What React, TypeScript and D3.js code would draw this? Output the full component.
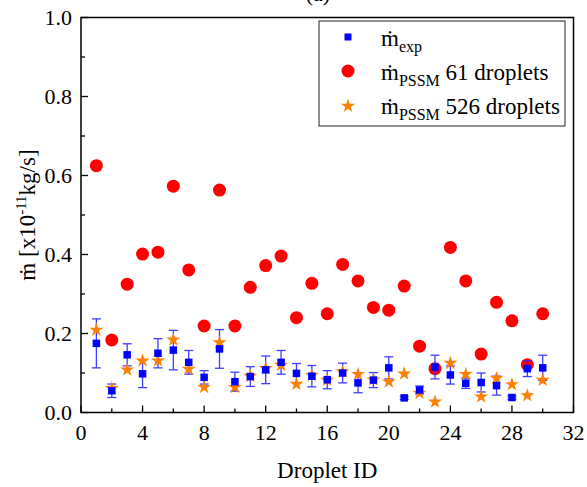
import React from "react";
import * as d3 from "d3";

const dropletIds = d3.range(1, 31);
const mExp = [0.175, 0.055, 0.146, 0.098, 0.15, 0.158, 0.127, 0.089, 0.161, 0.078, 0.091, 0.108, 0.127, 0.099, 0.092, 0.083, 0.1, 0.075, 0.082, 0.113, 0.037, 0.057, 0.115, 0.095, 0.074, 0.076, 0.068, 0.038, 0.111, 0.113];
const mExpErr = [0.062, 0.017, 0.028, 0.035, 0.037, 0.05, 0.03, 0.017, 0.049, 0.024, 0.025, 0.035, 0.03, 0.025, 0.027, 0.023, 0.025, 0.025, 0.019, 0.028, 0.004, 0.01, 0.03, 0.023, 0.013, 0.024, 0.024, 0.004, 0.02, 0.032];
const mPssm61 = [0.625, 0.1835, 0.325, 0.401, 0.406, 0.573, 0.361, 0.219, 0.563, 0.219, 0.317, 0.372, 0.396, 0.24, 0.327, 0.25, 0.375, 0.333, 0.266, 0.259, 0.32, 0.168, 0.111, 0.418, 0.333, 0.148, 0.279, 0.232, 0.121, 0.25];
const mPssm526 = [0.209, 0.061, 0.108, 0.131, 0.131, 0.184, 0.11, 0.064, 0.177, 0.064, 0.092, 0.112, 0.12, 0.072, 0.094, 0.082, 0.103, 0.097, 0.083, 0.078, 0.098, 0.049, 0.027, 0.125, 0.097, 0.04, 0.087, 0.071, 0.043, 0.082];
const xTicks = [0, 4, 8, 12, 16, 20, 24, 28, 32];
const xMinorTicks = [2, 6, 10, 14, 18, 22, 26, 30];
const yTicks = [0, 0.2, 0.4, 0.6, 0.8, 1.0];
const yMinorTicks = [0.1, 0.3, 0.5, 0.7, 0.9];

const FONT = "'Liberation Serif', 'Times New Roman', Times, serif";
const RED = "#ff0000";
const BLUE = "#0000ff";
const ORANGE = "#ff8000";

function T(props: any) {
  const { children, ...rest } = props;
  return (
    <text {...rest} fill="#000" style={{ fontFamily: FONT }}>
      {children}
    </text>
  );
}

export default function App() {
  const W = 587, H = 487;
  const L = 81, R = 573.5, Tp = 17.5, B = 412.5;
  const x = d3.scaleLinear().domain([0, 32]).range([L, R]);
  const y = d3.scaleLinear().domain([0, 1]).range([B, Tp]);
  const star = d3.symbol().type(d3.symbolStar).size(62)();
  const sq = 7.5;
  const cap = 4.5;

  return (
    <div style={{ fontFamily: FONT }}>
      <svg width={W} height={H} style={{ position: "absolute", left: 0, top: 0, background: "#fff" }}>
        <rect x={0} y={0} width={W} height={H} fill="#fff" />
        <T x={318} y={1} fontSize={22} textAnchor="middle">(a)</T>

        {dropletIds.map((d, i) => (
          <circle key={"r" + i} cx={x(d)} cy={y(mPssm61[i])} r={6.5} fill={RED} />
        ))}
        {dropletIds.map((d, i) => {
          const cx = x(d);
          const y1 = y(mExp[i] + mExpErr[i]);
          const y2 = y(mExp[i] - mExpErr[i]);
          return (
            <g key={"b" + i} stroke="#2a2aff" strokeWidth={1.3} opacity={0.9}>
              <line x1={cx} x2={cx} y1={y1} y2={y2} />
              <line x1={cx - cap} x2={cx + cap} y1={y1} y2={y1} />
              <line x1={cx - cap} x2={cx + cap} y1={y2} y2={y2} />
            </g>
          );
        })}
        {dropletIds.map((d, i) => (
          <path key={"s" + i} d={star} transform={`translate(${x(d)},${y(mPssm526[i])})`} fill={ORANGE} />
        ))}
        {dropletIds.map((d, i) => (
          <rect key={"q" + i} x={x(d) - sq / 2} y={y(mExp[i]) - sq / 2} width={sq} height={sq} fill={BLUE} />
        ))}

        <rect x={L} y={Tp} width={R - L} height={B - Tp} fill="none" stroke="#000" strokeWidth={1.5} />

        {xTicks.map((t) => (
          <g key={"xt" + t}>
            <line x1={x(t)} x2={x(t)} y1={B} y2={B - 7} stroke="#000" strokeWidth={1.3} />
            <T x={x(t)} y={440} fontSize={22} textAnchor="middle">{String(t)}</T>
          </g>
        ))}
        {xMinorTicks.map((t) => (
          <line key={"xm" + t} x1={x(t)} x2={x(t)} y1={B} y2={B - 4} stroke="#000" strokeWidth={1.3} />
        ))}
        {yTicks.map((t) => (
          <g key={"yt" + t}>
            <line x1={L} x2={L + 7} y1={y(t)} y2={y(t)} stroke="#000" strokeWidth={1.3} />
            <T x={72} y={y(t) + 7.5} fontSize={22} textAnchor="end">{t.toFixed(1)}</T>
          </g>
        ))}
        {yMinorTicks.map((t) => (
          <line key={"ym" + t} x1={L} x2={L + 4} y1={y(t)} y2={y(t)} stroke="#000" strokeWidth={1.3} />
        ))}

        <T x={(L + R) / 2} y={477.5} fontSize={23} textAnchor="middle">Droplet ID</T>
        <T transform={`translate(35,${(Tp + B) / 2}) rotate(-90)`} fontSize={23} textAnchor="middle">
          ṁ [x10<tspan fontSize={15} dy={-9}>-11</tspan><tspan dy={9}>kg/s]</tspan>
        </T>

        <rect x={319} y={21} width={246} height={105} fill="#fff" stroke="#222" strokeWidth={1} />
        <rect x={348 - 3.5} y={37 - 3.5} width={7} height={7} fill={BLUE} />
        <circle cx={348} cy={71} r={6.5} fill={RED} />
        <path d={star} transform="translate(348,106)" fill={ORANGE} />
        <T x={381} y={46} fontSize={23}>
          ṁ<tspan fontSize={16} dy={6}>exp</tspan>
        </T>
        <T x={381} y={80} fontSize={23}>
          ṁ<tspan fontSize={16} dy={6}>PSSM</tspan><tspan dy={-6}> 61 droplets</tspan>
        </T>
        <T x={381} y={114} fontSize={23}>
          ṁ<tspan fontSize={16} dy={6}>PSSM</tspan><tspan dy={-6}> 526 droplets</tspan>
        </T>
      </svg>
    </div>
  );
}
